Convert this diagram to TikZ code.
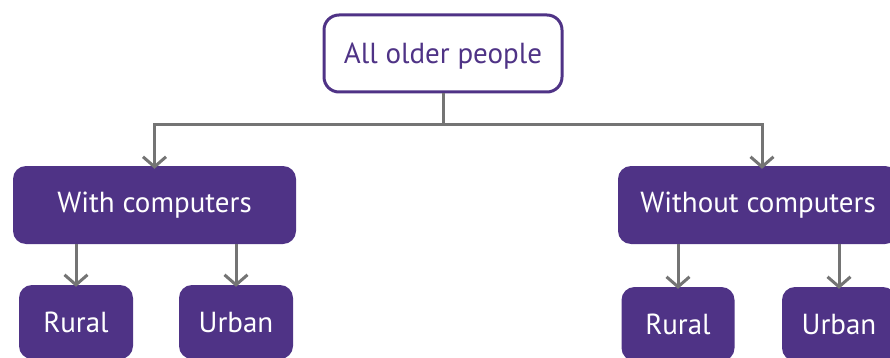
\documentclass[tikz,border=0pt]{standalone}
\usepackage{fontspec}
\setmainfont{PT Sans}
\usetikzlibrary{arrows.meta}
\definecolor{pp}{HTML}{4F3386}
\definecolor{ag}{HTML}{747474}
\tikzset{
  box/.style={rectangle, rounded corners=13pt, fill=pp, text=white, inner sep=0pt, font=\fontsize{29}{34}\selectfont},
  topbox/.style={rectangle, rounded corners=15pt, draw=pp, line width=3pt, fill=white, text=pp, inner sep=0pt, text depth=1pt, font=\fontsize{29}{34}\selectfont},
  arr/.style={draw=ag, line width=3pt, -{Straight Barb[length=10pt,width=23pt,line width=3pt]}},
  ln/.style={draw=ag, line width=3pt}
}
\begin{document}
\begin{tikzpicture}[x=1pt,y=-1pt]
\useasboundingbox (0,0) rectangle (890,358);
\clip (0,0) rectangle (890,358);
\node[topbox, minimum width=238pt, minimum height=77pt] (top) at (443,53.5) {All older people};
\node[box, minimum width=283pt, minimum height=78pt] (wc) at (154.5,205) {With computers};
\node[box, minimum width=280pt, minimum height=78pt] (woc) at (758,205) {Without computers};
\node[box, minimum width=114pt, minimum height=74pt] (r1) at (76,322) {Rural};
\node[box, minimum width=114pt, minimum height=74pt] (u1) at (236,322) {Urban};
\node[box, minimum width=113pt, minimum height=74pt] (r2) at (678,324) {Rural};
\node[box, minimum width=114pt, minimum height=74pt] (u2) at (839,324) {Urban};
\coordinate (j) at (443,125);
\draw[ln] (top.south) -- (j);
\draw[arr] (j) -| ([yshift=-3pt]wc.north);
\draw[arr] (j) -| ([yshift=-3pt,xshift=4pt]woc.north);
\draw[arr] (wc.south -| r1.north) -- ([yshift=-2pt]r1.north);
\draw[arr] (wc.south -| u1.north) -- ([yshift=-2pt]u1.north);
\draw[arr] (woc.south -| r2.north) -- ([yshift=-2pt]r2.north);
\draw[arr] (woc.south -| u2.north) -- ([yshift=-2pt]u2.north);
\end{tikzpicture}
\end{document}
